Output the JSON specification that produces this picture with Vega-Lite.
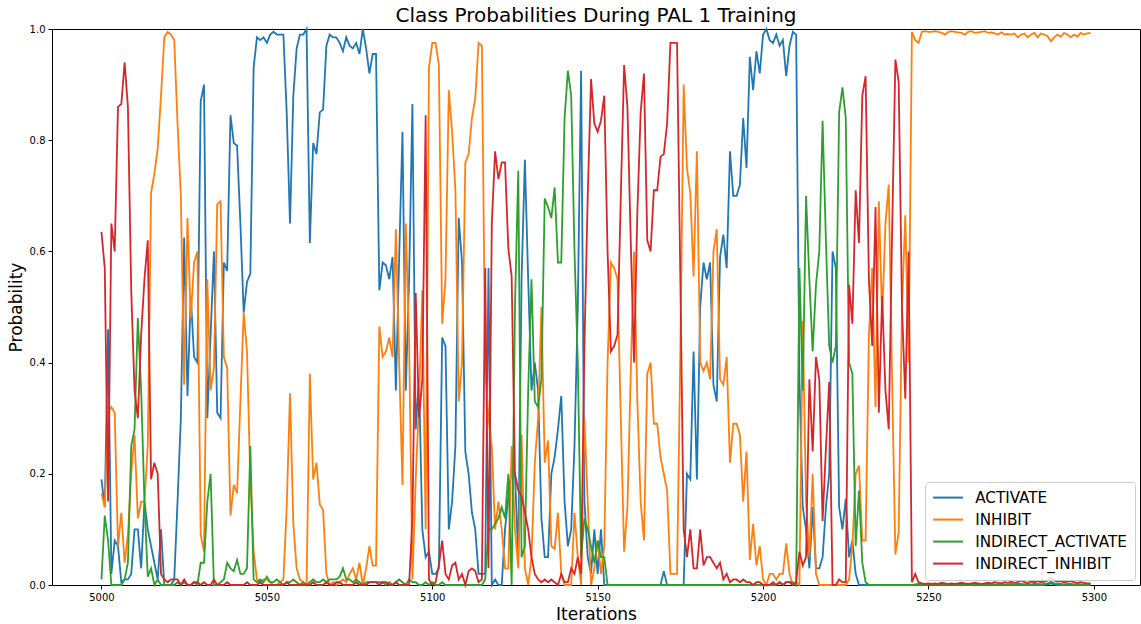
{
"$schema":"https://vega.github.io/schema/vega-lite/v6.json",
"width":1088,"height":556,
"autosize":{"type":"none"},
"padding":{"left":52,"top":29,"right":1,"bottom":39},
"config":{"font":"DejaVu Sans","view":{"stroke":"black","strokeWidth":1},
"axis":{"domain":false,"grid":false,"tickColor":"black","tickSize":4,"tickWidth":1,"labelFontSize":10,"labelColor":"black","labelPadding":3,"titleFontSize":17,"titleFontWeight":"normal","titleColor":"black"}},
"title":{"text":"Class Probabilities During PAL 1 Training","fontSize":20,"fontWeight":"normal","color":"black","anchor":"middle","offset":-2},
"data":{"values":[
{"i":5000,"ACTIVATE":0.19,"INHIBIT":0.165,"INDIRECT_ACTIVATE":0.01,"INDIRECT_INHIBIT":0.635},
{"i":5001,"ACTIVATE":0.14,"INHIBIT":0.14,"INDIRECT_ACTIVATE":0.125,"INDIRECT_INHIBIT":0.57},
{"i":5002,"ACTIVATE":0.46,"INHIBIT":0.31,"INDIRECT_ACTIVATE":0.08,"INDIRECT_INHIBIT":0.15},
{"i":5003,"ACTIVATE":0.02,"INHIBIT":0.32,"INDIRECT_ACTIVATE":0,"INDIRECT_INHIBIT":0.65},
{"i":5004,"ACTIVATE":0.08,"INHIBIT":0.31,"INDIRECT_ACTIVATE":0,"INDIRECT_INHIBIT":0.6},
{"i":5005,"ACTIVATE":0.07,"INHIBIT":0.07,"INDIRECT_ACTIVATE":0,"INDIRECT_INHIBIT":0.86},
{"i":5006,"ACTIVATE":0.005,"INHIBIT":0.13,"INDIRECT_ACTIVATE":0,"INDIRECT_INHIBIT":0.865},
{"i":5007,"ACTIVATE":0.01,"INHIBIT":0.04,"INDIRECT_ACTIVATE":0.01,"INDIRECT_INHIBIT":0.94},
{"i":5008,"ACTIVATE":0.01,"INHIBIT":0.09,"INDIRECT_ACTIVATE":0.04,"INDIRECT_INHIBIT":0.86},
{"i":5009,"ACTIVATE":0.02,"INHIBIT":0.2,"INDIRECT_ACTIVATE":0.25,"INDIRECT_INHIBIT":0.53},
{"i":5010,"ACTIVATE":0.1,"INHIBIT":0.27,"INDIRECT_ACTIVATE":0.28,"INDIRECT_INHIBIT":0.35},
{"i":5011,"ACTIVATE":0.1,"INHIBIT":0.12,"INDIRECT_ACTIVATE":0.48,"INDIRECT_INHIBIT":0.3},
{"i":5012,"ACTIVATE":0.03,"INHIBIT":0.15,"INDIRECT_ACTIVATE":0.35,"INDIRECT_INHIBIT":0.45},
{"i":5013,"ACTIVATE":0.15,"INHIBIT":0.15,"INDIRECT_ACTIVATE":0.15,"INDIRECT_INHIBIT":0.55},
{"i":5014,"ACTIVATE":0.1,"INHIBIT":0.25,"INDIRECT_ACTIVATE":0.015,"INDIRECT_INHIBIT":0.62},
{"i":5015,"ACTIVATE":0.07,"INHIBIT":0.705,"INDIRECT_ACTIVATE":0.03,"INDIRECT_INHIBIT":0.19},
{"i":5016,"ACTIVATE":0.04,"INHIBIT":0.74,"INDIRECT_ACTIVATE":0,"INDIRECT_INHIBIT":0.22},
{"i":5017,"ACTIVATE":0.01,"INHIBIT":0.785,"INDIRECT_ACTIVATE":0.01,"INDIRECT_INHIBIT":0.2},
{"i":5018,"ACTIVATE":0.1,"INHIBIT":0.88,"INDIRECT_ACTIVATE":0,"INDIRECT_INHIBIT":0.02},
{"i":5019,"ACTIVATE":0,"INHIBIT":0.985,"INDIRECT_ACTIVATE":0,"INDIRECT_INHIBIT":0.01},
{"i":5020,"ACTIVATE":0,"INHIBIT":0.995,"INDIRECT_ACTIVATE":0,"INDIRECT_INHIBIT":0.005},
{"i":5021,"ACTIVATE":0,"INHIBIT":0.99,"INDIRECT_ACTIVATE":0,"INDIRECT_INHIBIT":0.01},
{"i":5022,"ACTIVATE":0.01,"INHIBIT":0.98,"INDIRECT_ACTIVATE":0,"INDIRECT_INHIBIT":0.01},
{"i":5023,"ACTIVATE":0.15,"INHIBIT":0.83,"INDIRECT_ACTIVATE":0.005,"INDIRECT_INHIBIT":0.01},
{"i":5024,"ACTIVATE":0.3,"INHIBIT":0.7,"INDIRECT_ACTIVATE":0,"INDIRECT_INHIBIT":0},
{"i":5025,"ACTIVATE":0.625,"INHIBIT":0.36,"INDIRECT_ACTIVATE":0.005,"INDIRECT_INHIBIT":0.01},
{"i":5026,"ACTIVATE":0.34,"INHIBIT":0.66,"INDIRECT_ACTIVATE":0,"INDIRECT_INHIBIT":0},
{"i":5027,"ACTIVATE":0.52,"INHIBIT":0.48,"INDIRECT_ACTIVATE":0,"INDIRECT_INHIBIT":0},
{"i":5028,"ACTIVATE":0.41,"INHIBIT":0.58,"INDIRECT_ACTIVATE":0.005,"INDIRECT_INHIBIT":0.005},
{"i":5029,"ACTIVATE":0.4,"INHIBIT":0.6,"INDIRECT_ACTIVATE":0,"INDIRECT_INHIBIT":0.005},
{"i":5030,"ACTIVATE":0.87,"INHIBIT":0.09,"INDIRECT_ACTIVATE":0.04,"INDIRECT_INHIBIT":0},
{"i":5031,"ACTIVATE":0.9,"INHIBIT":0.06,"INDIRECT_ACTIVATE":0.04,"INDIRECT_INHIBIT":0.005},
{"i":5032,"ACTIVATE":0.3,"INHIBIT":0.55,"INDIRECT_ACTIVATE":0.15,"INDIRECT_INHIBIT":0},
{"i":5033,"ACTIVATE":0.45,"INHIBIT":0.35,"INDIRECT_ACTIVATE":0.2,"INDIRECT_INHIBIT":0},
{"i":5034,"ACTIVATE":0.6,"INHIBIT":0.39,"INDIRECT_ACTIVATE":0,"INDIRECT_INHIBIT":0.01},
{"i":5035,"ACTIVATE":0.31,"INHIBIT":0.685,"INDIRECT_ACTIVATE":0,"INDIRECT_INHIBIT":0},
{"i":5036,"ACTIVATE":0.3,"INHIBIT":0.69,"INDIRECT_ACTIVATE":0.005,"INDIRECT_INHIBIT":0},
{"i":5037,"ACTIVATE":0.58,"INHIBIT":0.41,"INDIRECT_ACTIVATE":0.01,"INDIRECT_INHIBIT":0},
{"i":5038,"ACTIVATE":0.565,"INHIBIT":0.39,"INDIRECT_ACTIVATE":0.04,"INDIRECT_INHIBIT":0.005},
{"i":5039,"ACTIVATE":0.845,"INHIBIT":0.125,"INDIRECT_ACTIVATE":0.03,"INDIRECT_INHIBIT":0},
{"i":5040,"ACTIVATE":0.795,"INHIBIT":0.18,"INDIRECT_ACTIVATE":0.025,"INDIRECT_INHIBIT":0},
{"i":5041,"ACTIVATE":0.79,"INHIBIT":0.165,"INDIRECT_ACTIVATE":0.045,"INDIRECT_INHIBIT":0},
{"i":5042,"ACTIVATE":0.65,"INHIBIT":0.33,"INDIRECT_ACTIVATE":0.02,"INDIRECT_INHIBIT":0},
{"i":5043,"ACTIVATE":0.49,"INHIBIT":0.49,"INDIRECT_ACTIVATE":0.02,"INDIRECT_INHIBIT":0},
{"i":5044,"ACTIVATE":0.545,"INHIBIT":0.42,"INDIRECT_ACTIVATE":0.03,"INDIRECT_INHIBIT":0.005},
{"i":5045,"ACTIVATE":0.56,"INHIBIT":0.19,"INDIRECT_ACTIVATE":0.25,"INDIRECT_INHIBIT":0},
{"i":5046,"ACTIVATE":0.93,"INHIBIT":0.06,"INDIRECT_ACTIVATE":0.01,"INDIRECT_INHIBIT":0},
{"i":5047,"ACTIVATE":0.985,"INHIBIT":0.01,"INDIRECT_ACTIVATE":0.005,"INDIRECT_INHIBIT":0},
{"i":5048,"ACTIVATE":0.98,"INHIBIT":0.005,"INDIRECT_ACTIVATE":0.01,"INDIRECT_INHIBIT":0.005},
{"i":5049,"ACTIVATE":0.985,"INHIBIT":0.01,"INDIRECT_ACTIVATE":0.005,"INDIRECT_INHIBIT":0},
{"i":5050,"ACTIVATE":0.975,"INHIBIT":0.01,"INDIRECT_ACTIVATE":0.015,"INDIRECT_INHIBIT":0},
{"i":5051,"ACTIVATE":0.99,"INHIBIT":0.005,"INDIRECT_ACTIVATE":0.005,"INDIRECT_INHIBIT":0},
{"i":5052,"ACTIVATE":0.995,"INHIBIT":0,"INDIRECT_ACTIVATE":0.005,"INDIRECT_INHIBIT":0},
{"i":5053,"ACTIVATE":0.99,"INHIBIT":0,"INDIRECT_ACTIVATE":0.01,"INDIRECT_INHIBIT":0},
{"i":5054,"ACTIVATE":0.99,"INHIBIT":0.005,"INDIRECT_ACTIVATE":0.005,"INDIRECT_INHIBIT":0},
{"i":5055,"ACTIVATE":0.99,"INHIBIT":0.01,"INDIRECT_ACTIVATE":0,"INDIRECT_INHIBIT":0},
{"i":5056,"ACTIVATE":0.85,"INHIBIT":0.14,"INDIRECT_ACTIVATE":0.005,"INDIRECT_INHIBIT":0.005},
{"i":5057,"ACTIVATE":0.65,"INHIBIT":0.345,"INDIRECT_ACTIVATE":0.005,"INDIRECT_INHIBIT":0},
{"i":5058,"ACTIVATE":0.88,"INHIBIT":0.11,"INDIRECT_ACTIVATE":0.01,"INDIRECT_INHIBIT":0},
{"i":5059,"ACTIVATE":0.965,"INHIBIT":0.03,"INDIRECT_ACTIVATE":0.005,"INDIRECT_INHIBIT":0},
{"i":5060,"ACTIVATE":0.99,"INHIBIT":0.01,"INDIRECT_ACTIVATE":0,"INDIRECT_INHIBIT":0},
{"i":5061,"ACTIVATE":0.99,"INHIBIT":0.005,"INDIRECT_ACTIVATE":0.005,"INDIRECT_INHIBIT":0},
{"i":5062,"ACTIVATE":1,"INHIBIT":0,"INDIRECT_ACTIVATE":0,"INDIRECT_INHIBIT":0},
{"i":5063,"ACTIVATE":0.615,"INHIBIT":0.38,"INDIRECT_ACTIVATE":0.005,"INDIRECT_INHIBIT":0},
{"i":5064,"ACTIVATE":0.795,"INHIBIT":0.19,"INDIRECT_ACTIVATE":0.01,"INDIRECT_INHIBIT":0.005},
{"i":5065,"ACTIVATE":0.775,"INHIBIT":0.22,"INDIRECT_ACTIVATE":0.005,"INDIRECT_INHIBIT":0},
{"i":5066,"ACTIVATE":0.85,"INHIBIT":0.145,"INDIRECT_ACTIVATE":0.005,"INDIRECT_INHIBIT":0},
{"i":5067,"ACTIVATE":0.855,"INHIBIT":0.135,"INDIRECT_ACTIVATE":0.01,"INDIRECT_INHIBIT":0},
{"i":5068,"ACTIVATE":0.97,"INHIBIT":0.02,"INDIRECT_ACTIVATE":0.005,"INDIRECT_INHIBIT":0.005},
{"i":5069,"ACTIVATE":0.99,"INHIBIT":0,"INDIRECT_ACTIVATE":0.01,"INDIRECT_INHIBIT":0},
{"i":5070,"ACTIVATE":0.985,"INHIBIT":0.005,"INDIRECT_ACTIVATE":0.01,"INDIRECT_INHIBIT":0},
{"i":5071,"ACTIVATE":0.985,"INHIBIT":0,"INDIRECT_ACTIVATE":0.01,"INDIRECT_INHIBIT":0.005},
{"i":5072,"ACTIVATE":0.975,"INHIBIT":0.005,"INDIRECT_ACTIVATE":0.015,"INDIRECT_INHIBIT":0.005},
{"i":5073,"ACTIVATE":0.96,"INHIBIT":0.01,"INDIRECT_ACTIVATE":0.03,"INDIRECT_INHIBIT":0},
{"i":5074,"ACTIVATE":0.985,"INHIBIT":0.005,"INDIRECT_ACTIVATE":0.01,"INDIRECT_INHIBIT":0},
{"i":5075,"ACTIVATE":0.97,"INHIBIT":0.02,"INDIRECT_ACTIVATE":0.01,"INDIRECT_INHIBIT":0},
{"i":5076,"ACTIVATE":0.965,"INHIBIT":0.03,"INDIRECT_ACTIVATE":0.005,"INDIRECT_INHIBIT":0},
{"i":5077,"ACTIVATE":0.975,"INHIBIT":0.01,"INDIRECT_ACTIVATE":0.01,"INDIRECT_INHIBIT":0.005},
{"i":5078,"ACTIVATE":0.955,"INHIBIT":0.04,"INDIRECT_ACTIVATE":0.005,"INDIRECT_INHIBIT":0},
{"i":5079,"ACTIVATE":1,"INHIBIT":0,"INDIRECT_ACTIVATE":0,"INDIRECT_INHIBIT":0},
{"i":5080,"ACTIVATE":0.965,"INHIBIT":0.03,"INDIRECT_ACTIVATE":0.005,"INDIRECT_INHIBIT":0},
{"i":5081,"ACTIVATE":0.92,"INHIBIT":0.07,"INDIRECT_ACTIVATE":0.005,"INDIRECT_INHIBIT":0.005},
{"i":5082,"ACTIVATE":0.955,"INHIBIT":0.035,"INDIRECT_ACTIVATE":0.005,"INDIRECT_INHIBIT":0.005},
{"i":5083,"ACTIVATE":0.955,"INHIBIT":0.035,"INDIRECT_ACTIVATE":0.005,"INDIRECT_INHIBIT":0.005},
{"i":5084,"ACTIVATE":0.53,"INHIBIT":0.465,"INDIRECT_ACTIVATE":0.005,"INDIRECT_INHIBIT":0},
{"i":5085,"ACTIVATE":0.58,"INHIBIT":0.41,"INDIRECT_ACTIVATE":0.005,"INDIRECT_INHIBIT":0.005},
{"i":5086,"ACTIVATE":0.575,"INHIBIT":0.42,"INDIRECT_ACTIVATE":0,"INDIRECT_INHIBIT":0.005},
{"i":5087,"ACTIVATE":0.55,"INHIBIT":0.445,"INDIRECT_ACTIVATE":0.005,"INDIRECT_INHIBIT":0},
{"i":5088,"ACTIVATE":0.59,"INHIBIT":0.41,"INDIRECT_ACTIVATE":0,"INDIRECT_INHIBIT":0},
{"i":5089,"ACTIVATE":0.35,"INHIBIT":0.64,"INDIRECT_ACTIVATE":0.005,"INDIRECT_INHIBIT":0.005},
{"i":5090,"ACTIVATE":0.59,"INHIBIT":0.4,"INDIRECT_ACTIVATE":0.01,"INDIRECT_INHIBIT":0},
{"i":5091,"ACTIVATE":0.815,"INHIBIT":0.18,"INDIRECT_ACTIVATE":0.005,"INDIRECT_INHIBIT":0},
{"i":5092,"ACTIVATE":0.35,"INHIBIT":0.65,"INDIRECT_ACTIVATE":0,"INDIRECT_INHIBIT":0},
{"i":5093,"ACTIVATE":0.55,"INHIBIT":0.44,"INDIRECT_ACTIVATE":0.01,"INDIRECT_INHIBIT":0},
{"i":5094,"ACTIVATE":0.865,"INHIBIT":0.01,"INDIRECT_ACTIVATE":0.005,"INDIRECT_INHIBIT":0.12},
{"i":5095,"ACTIVATE":0.28,"INHIBIT":0.19,"INDIRECT_ACTIVATE":0.005,"INDIRECT_INHIBIT":0.525},
{"i":5096,"ACTIVATE":0.37,"INHIBIT":0.33,"INDIRECT_ACTIVATE":0,"INDIRECT_INHIBIT":0.3},
{"i":5097,"ACTIVATE":0.1,"INHIBIT":0.53,"INDIRECT_ACTIVATE":0,"INDIRECT_INHIBIT":0.37},
{"i":5098,"ACTIVATE":0.05,"INHIBIT":0.1,"INDIRECT_ACTIVATE":0.005,"INDIRECT_INHIBIT":0.845},
{"i":5099,"ACTIVATE":0.06,"INHIBIT":0.93,"INDIRECT_ACTIVATE":0,"INDIRECT_INHIBIT":0.01},
{"i":5100,"ACTIVATE":0.02,"INHIBIT":0.975,"INDIRECT_ACTIVATE":0.005,"INDIRECT_INHIBIT":0},
{"i":5101,"ACTIVATE":0.02,"INHIBIT":0.975,"INDIRECT_ACTIVATE":0,"INDIRECT_INHIBIT":0.005},
{"i":5102,"ACTIVATE":0.03,"INHIBIT":0.935,"INDIRECT_ACTIVATE":0,"INDIRECT_INHIBIT":0.035},
{"i":5103,"ACTIVATE":0.445,"INHIBIT":0.47,"INDIRECT_ACTIVATE":0.005,"INDIRECT_INHIBIT":0.08},
{"i":5104,"ACTIVATE":0.43,"INHIBIT":0.55,"INDIRECT_ACTIVATE":0,"INDIRECT_INHIBIT":0.02},
{"i":5105,"ACTIVATE":0.1,"INHIBIT":0.89,"INDIRECT_ACTIVATE":0,"INDIRECT_INHIBIT":0.01},
{"i":5106,"ACTIVATE":0.15,"INHIBIT":0.815,"INDIRECT_ACTIVATE":0,"INDIRECT_INHIBIT":0.035},
{"i":5107,"ACTIVATE":0.25,"INHIBIT":0.71,"INDIRECT_ACTIVATE":0,"INDIRECT_INHIBIT":0.04},
{"i":5108,"ACTIVATE":0.66,"INHIBIT":0.33,"INDIRECT_ACTIVATE":0,"INDIRECT_INHIBIT":0.01},
{"i":5109,"ACTIVATE":0.58,"INHIBIT":0.4,"INDIRECT_ACTIVATE":0,"INDIRECT_INHIBIT":0.02},
{"i":5110,"ACTIVATE":0.24,"INHIBIT":0.76,"INDIRECT_ACTIVATE":0,"INDIRECT_INHIBIT":0},
{"i":5111,"ACTIVATE":0.2,"INHIBIT":0.775,"INDIRECT_ACTIVATE":0,"INDIRECT_INHIBIT":0.025},
{"i":5112,"ACTIVATE":0.13,"INHIBIT":0.84,"INDIRECT_ACTIVATE":0,"INDIRECT_INHIBIT":0.03},
{"i":5113,"ACTIVATE":0.1,"INHIBIT":0.875,"INDIRECT_ACTIVATE":0,"INDIRECT_INHIBIT":0.025},
{"i":5114,"ACTIVATE":0.02,"INHIBIT":0.975,"INDIRECT_ACTIVATE":0,"INDIRECT_INHIBIT":0.005},
{"i":5115,"ACTIVATE":0.02,"INHIBIT":0.97,"INDIRECT_ACTIVATE":0,"INDIRECT_INHIBIT":0.01},
{"i":5116,"ACTIVATE":0.02,"INHIBIT":0.4,"INDIRECT_ACTIVATE":0.01,"INDIRECT_INHIBIT":0.57},
{"i":5117,"ACTIVATE":0.57,"INHIBIT":0.3,"INDIRECT_ACTIVATE":0.1,"INDIRECT_INHIBIT":0.03},
{"i":5118,"ACTIVATE":0,"INHIBIT":0.25,"INDIRECT_ACTIVATE":0.1,"INDIRECT_INHIBIT":0.65},
{"i":5119,"ACTIVATE":0.01,"INHIBIT":0.1,"INDIRECT_ACTIVATE":0.11,"INDIRECT_INHIBIT":0.78},
{"i":5120,"ACTIVATE":0,"INHIBIT":0.15,"INDIRECT_ACTIVATE":0.12,"INDIRECT_INHIBIT":0.73},
{"i":5121,"ACTIVATE":0,"INHIBIT":0.1,"INDIRECT_ACTIVATE":0.14,"INDIRECT_INHIBIT":0.76},
{"i":5122,"ACTIVATE":0.1,"INHIBIT":0.03,"INDIRECT_ACTIVATE":0.12,"INDIRECT_INHIBIT":0.76},
{"i":5123,"ACTIVATE":0.16,"INHIBIT":0.03,"INDIRECT_ACTIVATE":0.2,"INDIRECT_INHIBIT":0.605},
{"i":5124,"ACTIVATE":0.21,"INHIBIT":0.25,"INDIRECT_ACTIVATE":0,"INDIRECT_INHIBIT":0.555},
{"i":5125,"ACTIVATE":0.2,"INHIBIT":0.1,"INDIRECT_ACTIVATE":0.5,"INDIRECT_INHIBIT":0.2},
{"i":5126,"ACTIVATE":0.05,"INHIBIT":0.03,"INDIRECT_ACTIVATE":0.745,"INDIRECT_INHIBIT":0.17},
{"i":5127,"ACTIVATE":0.55,"INHIBIT":0.27,"INDIRECT_ACTIVATE":0.05,"INDIRECT_INHIBIT":0.16},
{"i":5128,"ACTIVATE":0.765,"INHIBIT":0.03,"INDIRECT_ACTIVATE":0.07,"INDIRECT_INHIBIT":0.13},
{"i":5129,"ACTIVATE":0.55,"INHIBIT":0,"INDIRECT_ACTIVATE":0.35,"INDIRECT_INHIBIT":0.1},
{"i":5130,"ACTIVATE":0.35,"INHIBIT":0.05,"INDIRECT_ACTIVATE":0.55,"INDIRECT_INHIBIT":0.05},
{"i":5131,"ACTIVATE":0.4,"INHIBIT":0.22,"INDIRECT_ACTIVATE":0.33,"INDIRECT_INHIBIT":0.02},
{"i":5132,"ACTIVATE":0.35,"INHIBIT":0.3,"INDIRECT_ACTIVATE":0.32,"INDIRECT_INHIBIT":0.01},
{"i":5133,"ACTIVATE":0.12,"INHIBIT":0.5,"INDIRECT_ACTIVATE":0.37,"INDIRECT_INHIBIT":0.005},
{"i":5134,"ACTIVATE":0.05,"INHIBIT":0.22,"INDIRECT_ACTIVATE":0.695,"INDIRECT_INHIBIT":0.01},
{"i":5135,"ACTIVATE":0.05,"INHIBIT":0.26,"INDIRECT_ACTIVATE":0.68,"INDIRECT_INHIBIT":0.005},
{"i":5136,"ACTIVATE":0.2,"INHIBIT":0.07,"INDIRECT_ACTIVATE":0.66,"INDIRECT_INHIBIT":0.01},
{"i":5137,"ACTIVATE":0.23,"INHIBIT":0.065,"INDIRECT_ACTIVATE":0.715,"INDIRECT_INHIBIT":0.005},
{"i":5138,"ACTIVATE":0.28,"INHIBIT":0.13,"INDIRECT_ACTIVATE":0.58,"INDIRECT_INHIBIT":0},
{"i":5139,"ACTIVATE":0.34,"INHIBIT":0.02,"INDIRECT_ACTIVATE":0.58,"INDIRECT_INHIBIT":0.02},
{"i":5140,"ACTIVATE":0.15,"INHIBIT":0,"INDIRECT_ACTIVATE":0.84,"INDIRECT_INHIBIT":0.005},
{"i":5141,"ACTIVATE":0.07,"INHIBIT":0,"INDIRECT_ACTIVATE":0.925,"INDIRECT_INHIBIT":0.005},
{"i":5142,"ACTIVATE":0.1,"INHIBIT":0,"INDIRECT_ACTIVATE":0.88,"INDIRECT_INHIBIT":0.03},
{"i":5143,"ACTIVATE":0.25,"INHIBIT":0.13,"INDIRECT_ACTIVATE":0.6,"INDIRECT_INHIBIT":0.02},
{"i":5144,"ACTIVATE":0.5,"INHIBIT":0.05,"INDIRECT_ACTIVATE":0.4,"INDIRECT_INHIBIT":0.05},
{"i":5145,"ACTIVATE":0.925,"INHIBIT":0,"INDIRECT_ACTIVATE":0.05,"INDIRECT_INHIBIT":0.02},
{"i":5146,"ACTIVATE":0.15,"INHIBIT":0.3,"INDIRECT_ACTIVATE":0.12,"INDIRECT_INHIBIT":0.43},
{"i":5147,"ACTIVATE":0.05,"INHIBIT":0.15,"INDIRECT_ACTIVATE":0.1,"INDIRECT_INHIBIT":0.7},
{"i":5148,"ACTIVATE":0.02,"INHIBIT":0,"INDIRECT_ACTIVATE":0.07,"INDIRECT_INHIBIT":0.91},
{"i":5149,"ACTIVATE":0.1,"INHIBIT":0.03,"INDIRECT_ACTIVATE":0.04,"INDIRECT_INHIBIT":0.83},
{"i":5150,"ACTIVATE":0.02,"INHIBIT":0.08,"INDIRECT_ACTIVATE":0.08,"INDIRECT_INHIBIT":0.815},
{"i":5151,"ACTIVATE":0.1,"INHIBIT":0.02,"INDIRECT_ACTIVATE":0.05,"INDIRECT_INHIBIT":0.835},
{"i":5152,"ACTIVATE":0,"INHIBIT":0.07,"INDIRECT_ACTIVATE":0.05,"INDIRECT_INHIBIT":0.88},
{"i":5153,"ACTIVATE":0,"INHIBIT":0.4,"INDIRECT_ACTIVATE":0,"INDIRECT_INHIBIT":0.6},
{"i":5154,"ACTIVATE":0,"INHIBIT":0.58,"INDIRECT_ACTIVATE":0,"INDIRECT_INHIBIT":0.42},
{"i":5155,"ACTIVATE":0,"INHIBIT":0.57,"INDIRECT_ACTIVATE":0,"INDIRECT_INHIBIT":0.43},
{"i":5156,"ACTIVATE":0,"INHIBIT":0.55,"INDIRECT_ACTIVATE":0,"INDIRECT_INHIBIT":0.45},
{"i":5157,"ACTIVATE":0,"INHIBIT":0.3,"INDIRECT_ACTIVATE":0,"INDIRECT_INHIBIT":0.7},
{"i":5158,"ACTIVATE":0,"INHIBIT":0.06,"INDIRECT_ACTIVATE":0,"INDIRECT_INHIBIT":0.935},
{"i":5159,"ACTIVATE":0,"INHIBIT":0.14,"INDIRECT_ACTIVATE":0,"INDIRECT_INHIBIT":0.86},
{"i":5160,"ACTIVATE":0,"INHIBIT":0.38,"INDIRECT_ACTIVATE":0,"INDIRECT_INHIBIT":0.62},
{"i":5161,"ACTIVATE":0,"INHIBIT":0.6,"INDIRECT_ACTIVATE":0,"INDIRECT_INHIBIT":0.4},
{"i":5162,"ACTIVATE":0,"INHIBIT":0.33,"INDIRECT_ACTIVATE":0,"INDIRECT_INHIBIT":0.67},
{"i":5163,"ACTIVATE":0,"INHIBIT":0.15,"INDIRECT_ACTIVATE":0,"INDIRECT_INHIBIT":0.85},
{"i":5164,"ACTIVATE":0,"INHIBIT":0.08,"INDIRECT_ACTIVATE":0,"INDIRECT_INHIBIT":0.92},
{"i":5165,"ACTIVATE":0,"INHIBIT":0.38,"INDIRECT_ACTIVATE":0,"INDIRECT_INHIBIT":0.62},
{"i":5166,"ACTIVATE":0,"INHIBIT":0.4,"INDIRECT_ACTIVATE":0,"INDIRECT_INHIBIT":0.6},
{"i":5167,"ACTIVATE":0,"INHIBIT":0.29,"INDIRECT_ACTIVATE":0,"INDIRECT_INHIBIT":0.71},
{"i":5168,"ACTIVATE":0,"INHIBIT":0.29,"INDIRECT_ACTIVATE":0,"INDIRECT_INHIBIT":0.71},
{"i":5169,"ACTIVATE":0,"INHIBIT":0.23,"INDIRECT_ACTIVATE":0,"INDIRECT_INHIBIT":0.77},
{"i":5170,"ACTIVATE":0.025,"INHIBIT":0.2,"INDIRECT_ACTIVATE":0,"INDIRECT_INHIBIT":0.775},
{"i":5171,"ACTIVATE":0,"INHIBIT":0.17,"INDIRECT_ACTIVATE":0,"INDIRECT_INHIBIT":0.83},
{"i":5172,"ACTIVATE":0,"INHIBIT":0.02,"INDIRECT_ACTIVATE":0,"INDIRECT_INHIBIT":0.975},
{"i":5173,"ACTIVATE":0,"INHIBIT":0.02,"INDIRECT_ACTIVATE":0,"INDIRECT_INHIBIT":0.975},
{"i":5174,"ACTIVATE":0,"INHIBIT":0.02,"INDIRECT_ACTIVATE":0,"INDIRECT_INHIBIT":0.975},
{"i":5175,"ACTIVATE":0,"INHIBIT":0.42,"INDIRECT_ACTIVATE":0,"INDIRECT_INHIBIT":0.55},
{"i":5176,"ACTIVATE":0,"INHIBIT":0.9,"INDIRECT_ACTIVATE":0,"INDIRECT_INHIBIT":0.1},
{"i":5177,"ACTIVATE":0.2,"INHIBIT":0.75,"INDIRECT_ACTIVATE":0,"INDIRECT_INHIBIT":0.05},
{"i":5178,"ACTIVATE":0.19,"INHIBIT":0.705,"INDIRECT_ACTIVATE":0,"INDIRECT_INHIBIT":0.1},
{"i":5179,"ACTIVATE":0.42,"INHIBIT":0.555,"INDIRECT_ACTIVATE":0,"INDIRECT_INHIBIT":0.03},
{"i":5180,"ACTIVATE":0.19,"INHIBIT":0.78,"INDIRECT_ACTIVATE":0,"INDIRECT_INHIBIT":0.03},
{"i":5181,"ACTIVATE":0.5,"INHIBIT":0.4,"INDIRECT_ACTIVATE":0,"INDIRECT_INHIBIT":0.1},
{"i":5182,"ACTIVATE":0.58,"INHIBIT":0.385,"INDIRECT_ACTIVATE":0,"INDIRECT_INHIBIT":0.035},
{"i":5183,"ACTIVATE":0.55,"INHIBIT":0.4,"INDIRECT_ACTIVATE":0,"INDIRECT_INHIBIT":0.05},
{"i":5184,"ACTIVATE":0.58,"INHIBIT":0.37,"INDIRECT_ACTIVATE":0,"INDIRECT_INHIBIT":0.05},
{"i":5185,"ACTIVATE":0.36,"INHIBIT":0.6,"INDIRECT_ACTIVATE":0,"INDIRECT_INHIBIT":0.04},
{"i":5186,"ACTIVATE":0.33,"INHIBIT":0.64,"INDIRECT_ACTIVATE":0,"INDIRECT_INHIBIT":0.03},
{"i":5187,"ACTIVATE":0.59,"INHIBIT":0.37,"INDIRECT_ACTIVATE":0,"INDIRECT_INHIBIT":0.04},
{"i":5188,"ACTIVATE":0.63,"INHIBIT":0.36,"INDIRECT_ACTIVATE":0,"INDIRECT_INHIBIT":0.01},
{"i":5189,"ACTIVATE":0.57,"INHIBIT":0.41,"INDIRECT_ACTIVATE":0,"INDIRECT_INHIBIT":0.02},
{"i":5190,"ACTIVATE":0.78,"INHIBIT":0.22,"INDIRECT_ACTIVATE":0,"INDIRECT_INHIBIT":0.005},
{"i":5191,"ACTIVATE":0.7,"INHIBIT":0.29,"INDIRECT_ACTIVATE":0,"INDIRECT_INHIBIT":0.01},
{"i":5192,"ACTIVATE":0.7,"INHIBIT":0.29,"INDIRECT_ACTIVATE":0,"INDIRECT_INHIBIT":0.01},
{"i":5193,"ACTIVATE":0.72,"INHIBIT":0.27,"INDIRECT_ACTIVATE":0,"INDIRECT_INHIBIT":0.005},
{"i":5194,"ACTIVATE":0.84,"INHIBIT":0.15,"INDIRECT_ACTIVATE":0,"INDIRECT_INHIBIT":0.01},
{"i":5195,"ACTIVATE":0.75,"INHIBIT":0.24,"INDIRECT_ACTIVATE":0,"INDIRECT_INHIBIT":0.005},
{"i":5196,"ACTIVATE":0.95,"INHIBIT":0.045,"INDIRECT_ACTIVATE":0,"INDIRECT_INHIBIT":0.005},
{"i":5197,"ACTIVATE":0.89,"INHIBIT":0.11,"INDIRECT_ACTIVATE":0,"INDIRECT_INHIBIT":0},
{"i":5198,"ACTIVATE":0.96,"INHIBIT":0.035,"INDIRECT_ACTIVATE":0,"INDIRECT_INHIBIT":0.005},
{"i":5199,"ACTIVATE":0.92,"INHIBIT":0.07,"INDIRECT_ACTIVATE":0,"INDIRECT_INHIBIT":0.005},
{"i":5200,"ACTIVATE":0.99,"INHIBIT":0.01,"INDIRECT_ACTIVATE":0,"INDIRECT_INHIBIT":0},
{"i":5201,"ACTIVATE":1,"INHIBIT":0,"INDIRECT_ACTIVATE":0,"INDIRECT_INHIBIT":0},
{"i":5202,"ACTIVATE":0.98,"INHIBIT":0.02,"INDIRECT_ACTIVATE":0,"INDIRECT_INHIBIT":0},
{"i":5203,"ACTIVATE":0.975,"INHIBIT":0.02,"INDIRECT_ACTIVATE":0,"INDIRECT_INHIBIT":0.005},
{"i":5204,"ACTIVATE":0.99,"INHIBIT":0.01,"INDIRECT_ACTIVATE":0,"INDIRECT_INHIBIT":0},
{"i":5205,"ACTIVATE":0.97,"INHIBIT":0.02,"INDIRECT_ACTIVATE":0.005,"INDIRECT_INHIBIT":0.005},
{"i":5206,"ACTIVATE":0.98,"INHIBIT":0.02,"INDIRECT_ACTIVATE":0,"INDIRECT_INHIBIT":0},
{"i":5207,"ACTIVATE":0.915,"INHIBIT":0.075,"INDIRECT_ACTIVATE":0.005,"INDIRECT_INHIBIT":0.005},
{"i":5208,"ACTIVATE":0.97,"INHIBIT":0.02,"INDIRECT_ACTIVATE":0.005,"INDIRECT_INHIBIT":0.005},
{"i":5209,"ACTIVATE":0.995,"INHIBIT":0,"INDIRECT_ACTIVATE":0.005,"INDIRECT_INHIBIT":0},
{"i":5210,"ACTIVATE":0.99,"INHIBIT":0.005,"INDIRECT_ACTIVATE":0,"INDIRECT_INHIBIT":0.005},
{"i":5211,"ACTIVATE":0.37,"INHIBIT":0,"INDIRECT_ACTIVATE":0.57,"INDIRECT_INHIBIT":0.06},
{"i":5212,"ACTIVATE":0.14,"INHIBIT":0.475,"INDIRECT_ACTIVATE":0.35,"INDIRECT_INHIBIT":0.035},
{"i":5213,"ACTIVATE":0.1,"INHIBIT":0.15,"INDIRECT_ACTIVATE":0.7,"INDIRECT_INHIBIT":0.05},
{"i":5214,"ACTIVATE":0.03,"INHIBIT":0.05,"INDIRECT_ACTIVATE":0.55,"INDIRECT_INHIBIT":0.37},
{"i":5215,"ACTIVATE":0.14,"INHIBIT":0.2,"INDIRECT_ACTIVATE":0.42,"INDIRECT_INHIBIT":0.24},
{"i":5216,"ACTIVATE":0.03,"INHIBIT":0.02,"INDIRECT_ACTIVATE":0.54,"INDIRECT_INHIBIT":0.41},
{"i":5217,"ACTIVATE":0.03,"INHIBIT":0,"INDIRECT_ACTIVATE":0.6,"INDIRECT_INHIBIT":0.37},
{"i":5218,"ACTIVATE":0.05,"INHIBIT":0,"INDIRECT_ACTIVATE":0.835,"INDIRECT_INHIBIT":0.115},
{"i":5219,"ACTIVATE":0.14,"INHIBIT":0,"INDIRECT_ACTIVATE":0.62,"INDIRECT_INHIBIT":0.245},
{"i":5220,"ACTIVATE":0.2,"INHIBIT":0,"INDIRECT_ACTIVATE":0.43,"INDIRECT_INHIBIT":0.365},
{"i":5221,"ACTIVATE":0.6,"INHIBIT":0,"INDIRECT_ACTIVATE":0.4,"INDIRECT_INHIBIT":0},
{"i":5222,"ACTIVATE":0.57,"INHIBIT":0,"INDIRECT_ACTIVATE":0.43,"INDIRECT_INHIBIT":0},
{"i":5223,"ACTIVATE":0.14,"INHIBIT":0,"INDIRECT_ACTIVATE":0.85,"INDIRECT_INHIBIT":0.01},
{"i":5224,"ACTIVATE":0.1,"INHIBIT":0,"INDIRECT_ACTIVATE":0.895,"INDIRECT_INHIBIT":0.005},
{"i":5225,"ACTIVATE":0.155,"INHIBIT":0,"INDIRECT_ACTIVATE":0.84,"INDIRECT_INHIBIT":0.005},
{"i":5226,"ACTIVATE":0.05,"INHIBIT":0.01,"INDIRECT_ACTIVATE":0.4,"INDIRECT_INHIBIT":0.54},
{"i":5227,"ACTIVATE":0.08,"INHIBIT":0.07,"INDIRECT_ACTIVATE":0.38,"INDIRECT_INHIBIT":0.47},
{"i":5228,"ACTIVATE":0.02,"INHIBIT":0.2,"INDIRECT_ACTIVATE":0.07,"INDIRECT_INHIBIT":0.71},
{"i":5229,"ACTIVATE":0,"INHIBIT":0.215,"INDIRECT_ACTIVATE":0.17,"INDIRECT_INHIBIT":0.615},
{"i":5230,"ACTIVATE":0,"INHIBIT":0.08,"INDIRECT_ACTIVATE":0.04,"INDIRECT_INHIBIT":0.88},
{"i":5231,"ACTIVATE":0,"INHIBIT":0.08,"INDIRECT_ACTIVATE":0.005,"INDIRECT_INHIBIT":0.915},
{"i":5232,"ACTIVATE":0,"INHIBIT":0.45,"INDIRECT_ACTIVATE":0,"INDIRECT_INHIBIT":0.55},
{"i":5233,"ACTIVATE":0,"INHIBIT":0.57,"INDIRECT_ACTIVATE":0,"INDIRECT_INHIBIT":0.43},
{"i":5234,"ACTIVATE":0,"INHIBIT":0.32,"INDIRECT_ACTIVATE":0,"INDIRECT_INHIBIT":0.68},
{"i":5235,"ACTIVATE":0,"INHIBIT":0.69,"INDIRECT_ACTIVATE":0,"INDIRECT_INHIBIT":0.31},
{"i":5236,"ACTIVATE":0,"INHIBIT":0.48,"INDIRECT_ACTIVATE":0,"INDIRECT_INHIBIT":0.52},
{"i":5237,"ACTIVATE":0,"INHIBIT":0.65,"INDIRECT_ACTIVATE":0,"INDIRECT_INHIBIT":0.35},
{"i":5238,"ACTIVATE":0,"INHIBIT":0.72,"INDIRECT_ACTIVATE":0,"INDIRECT_INHIBIT":0.28},
{"i":5239,"ACTIVATE":0,"INHIBIT":0.37,"INDIRECT_ACTIVATE":0,"INDIRECT_INHIBIT":0.63},
{"i":5240,"ACTIVATE":0,"INHIBIT":0.055,"INDIRECT_ACTIVATE":0,"INDIRECT_INHIBIT":0.945},
{"i":5241,"ACTIVATE":0,"INHIBIT":0.095,"INDIRECT_ACTIVATE":0,"INDIRECT_INHIBIT":0.905},
{"i":5242,"ACTIVATE":0,"INHIBIT":0.5,"INDIRECT_ACTIVATE":0,"INDIRECT_INHIBIT":0.5},
{"i":5243,"ACTIVATE":0,"INHIBIT":0.665,"INDIRECT_ACTIVATE":0,"INDIRECT_INHIBIT":0.335},
{"i":5244,"ACTIVATE":0,"INHIBIT":0.4,"INDIRECT_ACTIVATE":0,"INDIRECT_INHIBIT":0.6},
{"i":5245,"ACTIVATE":0,"INHIBIT":0.995,"INDIRECT_ACTIVATE":0,"INDIRECT_INHIBIT":0.005},
{"i":5246,"ACTIVATE":0,"INHIBIT":0.98,"INDIRECT_ACTIVATE":0.001,"INDIRECT_INHIBIT":0.02},
{"i":5247,"ACTIVATE":0,"INHIBIT":0.975,"INDIRECT_ACTIVATE":0.002,"INDIRECT_INHIBIT":0.005},
{"i":5248,"ACTIVATE":0,"INHIBIT":0.995,"INDIRECT_ACTIVATE":0.001,"INDIRECT_INHIBIT":0.003},
{"i":5249,"ACTIVATE":0,"INHIBIT":0.996,"INDIRECT_ACTIVATE":0.001,"INDIRECT_INHIBIT":0.002},
{"i":5250,"ACTIVATE":0,"INHIBIT":0.995,"INDIRECT_ACTIVATE":0.001,"INDIRECT_INHIBIT":0.003},
{"i":5251,"ACTIVATE":0,"INHIBIT":0.995,"INDIRECT_ACTIVATE":0.002,"INDIRECT_INHIBIT":0.002},
{"i":5252,"ACTIVATE":0,"INHIBIT":0.996,"INDIRECT_ACTIVATE":0.001,"INDIRECT_INHIBIT":0.003},
{"i":5253,"ACTIVATE":0,"INHIBIT":0.995,"INDIRECT_ACTIVATE":0.001,"INDIRECT_INHIBIT":0.002},
{"i":5254,"ACTIVATE":0,"INHIBIT":0.993,"INDIRECT_ACTIVATE":0.002,"INDIRECT_INHIBIT":0.004},
{"i":5255,"ACTIVATE":0,"INHIBIT":0.99,"INDIRECT_ACTIVATE":0.001,"INDIRECT_INHIBIT":0.003},
{"i":5256,"ACTIVATE":0,"INHIBIT":0.995,"INDIRECT_ACTIVATE":0.001,"INDIRECT_INHIBIT":0.002},
{"i":5257,"ACTIVATE":0,"INHIBIT":0.996,"INDIRECT_ACTIVATE":0.002,"INDIRECT_INHIBIT":0.003},
{"i":5258,"ACTIVATE":0,"INHIBIT":0.995,"INDIRECT_ACTIVATE":0.001,"INDIRECT_INHIBIT":0.002},
{"i":5259,"ACTIVATE":0,"INHIBIT":0.994,"INDIRECT_ACTIVATE":0.001,"INDIRECT_INHIBIT":0.003},
{"i":5260,"ACTIVATE":0,"INHIBIT":0.993,"INDIRECT_ACTIVATE":0.002,"INDIRECT_INHIBIT":0.004},
{"i":5261,"ACTIVATE":0,"INHIBIT":0.99,"INDIRECT_ACTIVATE":0.001,"INDIRECT_INHIBIT":0.003},
{"i":5262,"ACTIVATE":0,"INHIBIT":0.995,"INDIRECT_ACTIVATE":0.001,"INDIRECT_INHIBIT":0.002},
{"i":5263,"ACTIVATE":0,"INHIBIT":0.996,"INDIRECT_ACTIVATE":0.002,"INDIRECT_INHIBIT":0.003},
{"i":5264,"ACTIVATE":0,"INHIBIT":0.993,"INDIRECT_ACTIVATE":0.001,"INDIRECT_INHIBIT":0.004},
{"i":5265,"ACTIVATE":0,"INHIBIT":0.994,"INDIRECT_ACTIVATE":0.001,"INDIRECT_INHIBIT":0.003},
{"i":5266,"ACTIVATE":0,"INHIBIT":0.995,"INDIRECT_ACTIVATE":0.002,"INDIRECT_INHIBIT":0.002},
{"i":5267,"ACTIVATE":0,"INHIBIT":0.996,"INDIRECT_ACTIVATE":0.001,"INDIRECT_INHIBIT":0.003},
{"i":5268,"ACTIVATE":0,"INHIBIT":0.993,"INDIRECT_ACTIVATE":0.001,"INDIRECT_INHIBIT":0.004},
{"i":5269,"ACTIVATE":0,"INHIBIT":0.994,"INDIRECT_ACTIVATE":0.002,"INDIRECT_INHIBIT":0.003},
{"i":5270,"ACTIVATE":0,"INHIBIT":0.992,"INDIRECT_ACTIVATE":0.001,"INDIRECT_INHIBIT":0.005},
{"i":5271,"ACTIVATE":0,"INHIBIT":0.99,"INDIRECT_ACTIVATE":0.001,"INDIRECT_INHIBIT":0.004},
{"i":5272,"ACTIVATE":0,"INHIBIT":0.994,"INDIRECT_ACTIVATE":0.002,"INDIRECT_INHIBIT":0.003},
{"i":5273,"ACTIVATE":0,"INHIBIT":0.99,"INDIRECT_ACTIVATE":0.001,"INDIRECT_INHIBIT":0.005},
{"i":5274,"ACTIVATE":0,"INHIBIT":0.991,"INDIRECT_ACTIVATE":0.001,"INDIRECT_INHIBIT":0.004},
{"i":5275,"ACTIVATE":0,"INHIBIT":0.99,"INDIRECT_ACTIVATE":0.002,"INDIRECT_INHIBIT":0.006},
{"i":5276,"ACTIVATE":0,"INHIBIT":0.992,"INDIRECT_ACTIVATE":0.001,"INDIRECT_INHIBIT":0.004},
{"i":5277,"ACTIVATE":0,"INHIBIT":0.985,"INDIRECT_ACTIVATE":0.002,"INDIRECT_INHIBIT":0.005},
{"i":5278,"ACTIVATE":0,"INHIBIT":0.99,"INDIRECT_ACTIVATE":0.002,"INDIRECT_INHIBIT":0.008},
{"i":5279,"ACTIVATE":0,"INHIBIT":0.992,"INDIRECT_ACTIVATE":0.001,"INDIRECT_INHIBIT":0.005},
{"i":5280,"ACTIVATE":0,"INHIBIT":0.985,"INDIRECT_ACTIVATE":0.002,"INDIRECT_INHIBIT":0.004},
{"i":5281,"ACTIVATE":0,"INHIBIT":0.99,"INDIRECT_ACTIVATE":0.001,"INDIRECT_INHIBIT":0.006},
{"i":5282,"ACTIVATE":0,"INHIBIT":0.993,"INDIRECT_ACTIVATE":0.002,"INDIRECT_INHIBIT":0.005},
{"i":5283,"ACTIVATE":0,"INHIBIT":0.985,"INDIRECT_ACTIVATE":0.002,"INDIRECT_INHIBIT":0.007},
{"i":5284,"ACTIVATE":0,"INHIBIT":0.992,"INDIRECT_ACTIVATE":0.001,"INDIRECT_INHIBIT":0.005},
{"i":5285,"ACTIVATE":0,"INHIBIT":0.99,"INDIRECT_ACTIVATE":0.002,"INDIRECT_INHIBIT":0.006},
{"i":5286,"ACTIVATE":0.001,"INHIBIT":0.987,"INDIRECT_ACTIVATE":0.003,"INDIRECT_INHIBIT":0.008},
{"i":5287,"ACTIVATE":0.003,"INHIBIT":0.978,"INDIRECT_ACTIVATE":0.006,"INDIRECT_INHIBIT":0.013},
{"i":5288,"ACTIVATE":0.001,"INHIBIT":0.985,"INDIRECT_ACTIVATE":0.003,"INDIRECT_INHIBIT":0.008},
{"i":5289,"ACTIVATE":0,"INHIBIT":0.99,"INDIRECT_ACTIVATE":0.002,"INDIRECT_INHIBIT":0.006},
{"i":5290,"ACTIVATE":0,"INHIBIT":0.986,"INDIRECT_ACTIVATE":0.002,"INDIRECT_INHIBIT":0.007},
{"i":5291,"ACTIVATE":0,"INHIBIT":0.993,"INDIRECT_ACTIVATE":0.001,"INDIRECT_INHIBIT":0.005},
{"i":5292,"ACTIVATE":0,"INHIBIT":0.99,"INDIRECT_ACTIVATE":0.002,"INDIRECT_INHIBIT":0.006},
{"i":5293,"ACTIVATE":0,"INHIBIT":0.985,"INDIRECT_ACTIVATE":0.002,"INDIRECT_INHIBIT":0.007},
{"i":5294,"ACTIVATE":0,"INHIBIT":0.99,"INDIRECT_ACTIVATE":0.001,"INDIRECT_INHIBIT":0.005},
{"i":5295,"ACTIVATE":0,"INHIBIT":0.986,"INDIRECT_ACTIVATE":0.002,"INDIRECT_INHIBIT":0.004},
{"i":5296,"ACTIVATE":0,"INHIBIT":0.993,"INDIRECT_ACTIVATE":0.001,"INDIRECT_INHIBIT":0.005},
{"i":5297,"ACTIVATE":0,"INHIBIT":0.99,"INDIRECT_ACTIVATE":0.001,"INDIRECT_INHIBIT":0.004},
{"i":5298,"ACTIVATE":0,"INHIBIT":0.992,"INDIRECT_ACTIVATE":0.001,"INDIRECT_INHIBIT":0.003},
{"i":5299,"ACTIVATE":0,"INHIBIT":0.993,"INDIRECT_ACTIVATE":0.001,"INDIRECT_INHIBIT":0.003}
]},
"transform":[{"fold":["ACTIVATE","INHIBIT","INDIRECT_ACTIVATE","INDIRECT_INHIBIT"],"as":["class","p"]}],
"mark":{"type":"line","strokeWidth":1.8},
"encoding":{
"x":{"field":"i","type":"quantitative","scale":{"domain":[4985.05,5313.95],"nice":false,"zero":false},"axis":{"values":[5000,5050,5100,5150,5200,5250,5300],"format":"d","title":"Iterations","titlePadding":4}},
"y":{"field":"p","type":"quantitative","scale":{"domain":[0,1],"nice":false},"axis":{"values":[0,0.2,0.4,0.6,0.8,1],"format":".1f","title":"Probability","titlePadding":4}},
"color":{"field":"class","type":"nominal","sort":["ACTIVATE","INHIBIT","INDIRECT_ACTIVATE","INDIRECT_INHIBIT"],"scale":{"domain":["ACTIVATE","INHIBIT","INDIRECT_ACTIVATE","INDIRECT_INHIBIT"],"range":["#1f77b4","#ff7f0e","#2ca02c","#d62728"]},
"legend":{"title":null,"orient":"bottom-right","offset":5,"padding":8,"fillColor":"rgba(255,255,255,0.8)","strokeColor":"#cccccc","cornerRadius":3,"symbolType":"M-1.5,0H4.5","symbolSize":100,"symbolStrokeWidth":2,"labelFontSize":15.2,"labelColor":"black","labelOffset":27,"rowPadding":6,"labelLimit":400}}
}
}
